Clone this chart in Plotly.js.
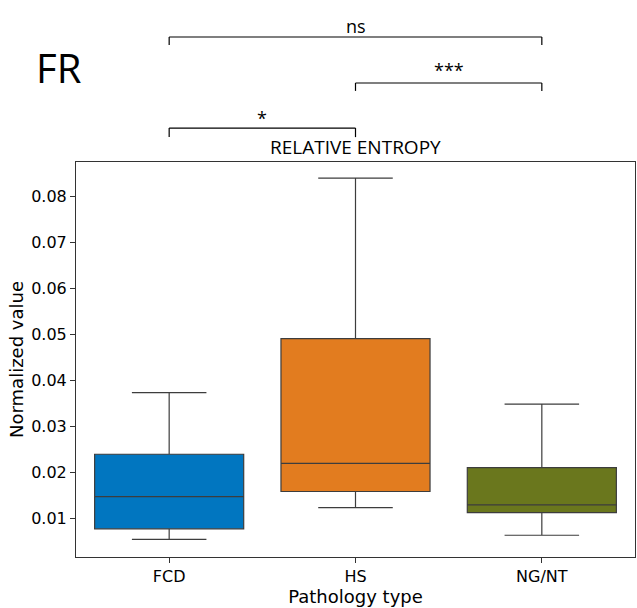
<!DOCTYPE html>
<html>
<head>
<meta charset="utf-8">
<script src="https://cdn.plot.ly/plotly-3.0.1.min.js"></script>
<style>html,body{margin:0;padding:0;background:#fff;}#chart{width:637px;height:608px;}</style>
</head>
<body>
<div id="chart"></div>
<script>
const categories = ["FCD", "HS", "NG/NT"];
const lowerWhisker = [0.0055, 0.0124, 0.0064];
const q1Values = [0.0078, 0.0159, 0.0113];
const medianValues = [0.0148, 0.0220, 0.0130];
const q3Values = [0.0240, 0.0491, 0.0211];
const upperWhisker = [0.0374, 0.0840, 0.0349];
const boxColors = ["#0176C0", "#E27C1F", "#6A771D"];
const tickVals = [0.01, 0.02, 0.03, 0.04, 0.05, 0.06, 0.07, 0.08];
const tickText = ["0.01", "0.02", "0.03", "0.04", "0.05", "0.06", "0.07", "0.08"];
const comparisons = [
  {from: "FCD", to: "HS", label: "*"},
  {from: "HS", to: "NG/NT", label: "***"},
  {from: "FCD", to: "NG/NT", label: "ns"}
];

const traces = categories.map((c, i) => ({
  type: "box",
  x: [c],
  q1: [q1Values[i]],
  median: [medianValues[i]],
  q3: [q3Values[i]],
  lowerfence: [lowerWhisker[i]],
  upperfence: [upperWhisker[i]],
  fillcolor: boxColors[i],
  line: {color: "#3d3d3d", width: 1.2},
  width: 0.8,
  whiskerwidth: 0.5,
  boxpoints: false,
  hoverinfo: "skip",
  showlegend: false
}));

// bracket geometry (paper units above plot)
const levels = [
  {y: 1.086, drop: 0.023, ty: 1.077},
  {y: 1.200, drop: 0.020, ty: 1.198},
  {y: 1.3165, drop: 0.0205, ty: 1.31}
];
const shapes = [];
const annotations = [];
const textFont = "Open Sans, Noto Sans, sans-serif";
comparisons.forEach((cmp, i) => {
  const L = levels[i];
  const x0 = categories.indexOf(cmp.from), x1 = categories.indexOf(cmp.to);
  const ln = {color: "#000", width: 1.2};
  shapes.push({type: "line", xref: "x", yref: "paper", x0: x0, x1: x1, y0: L.y, y1: L.y, line: ln});
  shapes.push({type: "line", xref: "x", yref: "paper", x0: x0, x1: x0, y0: L.y, y1: L.y - L.drop, line: ln});
  shapes.push({type: "line", xref: "x", yref: "paper", x0: x1, x1: x1, y0: L.y, y1: L.y - L.drop, line: ln});
  annotations.push({xref: "x", yref: "paper", x: (x0 + x1) / 2, y: L.ty, text: cmp.label,
    showarrow: false, yanchor: "bottom", font: {family: textFont, size: 18, color: "#000"}});
});
annotations.push({xref: "paper", yref: "paper", x: -0.076, y: 1.24, xanchor: "left", yanchor: "middle",
  text: "FR", showarrow: false, font: {family: textFont, size: 40, color: "#000"}});
annotations.push({xref: "paper", yref: "paper", x: 0.5, y: 1.0, yanchor: "bottom", yshift: 0,
  text: "RELATIVE ENTROPY", showarrow: false, font: {family: textFont, size: 19, color: "#000"}});

const layout = {
  width: 637, height: 608,
  margin: {l: 76, r: 2, t: 162, b: 51},
  paper_bgcolor: "#fff", plot_bgcolor: "#fff",
  boxmode: "overlay",
  font: {family: "DejaVu Sans, sans-serif", size: 16, color: "#000"},
  xaxis: {
    type: "category", categoryorder: "array", categoryarray: categories,
    range: [-0.5, 2.5],
    showline: true, mirror: true, linecolor: "#333", linewidth: 1,
    ticks: "outside", ticklen: 5, tickcolor: "#333",
    showgrid: false, zeroline: false,
    tickfont: {size: 16},
    title: {text: "Pathology type", font: {size: 18}, standoff: 0}
  },
  yaxis: {
    range: [0.00167, 0.0875],
    tickvals: tickVals, ticktext: tickText,
    showline: true, mirror: true, linecolor: "#333", linewidth: 1,
    ticks: "outside", ticklen: 5, tickcolor: "#333",
    showgrid: false, zeroline: false,
    tickfont: {size: 16},
    title: {text: "Normalized value", font: {size: 18}, standoff: 2}
  },
  shapes: shapes,
  annotations: annotations
};

Plotly.newPlot("chart", traces, layout, {displayModeBar: false, staticPlot: true});
</script>
</body>
</html>
